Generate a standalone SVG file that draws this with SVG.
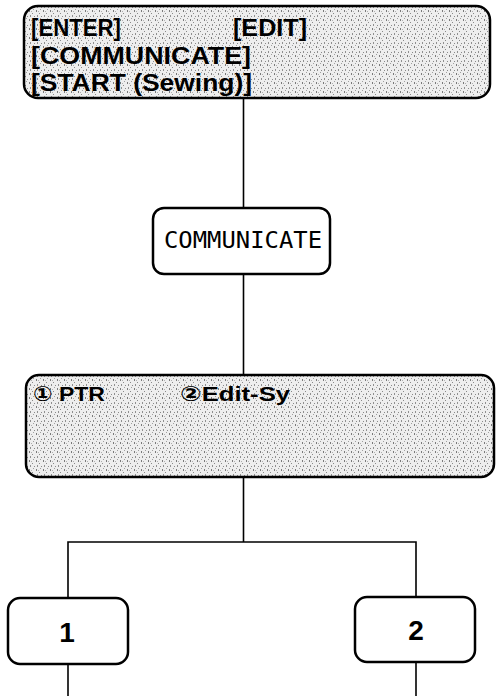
<svg xmlns="http://www.w3.org/2000/svg" width="498" height="696" viewBox="0 0 498 696">
<defs>
<pattern id="stip" width="7" height="9" patternUnits="userSpaceOnUse">
<rect width="7" height="9" fill="#eeeeee"/>
<rect x="1" y="1" width="1" height="2" fill="#7a7a7a"/>
<rect x="4" y="4" width="1" height="1" fill="#8a8a8a"/>
<rect x="2" y="6" width="1" height="2" fill="#909090"/>
<rect x="5" y="0" width="1" height="1" fill="#a0a0a0"/>
<rect x="6" y="7" width="1" height="1" fill="#8a8a8a"/>
<rect x="3" y="2" width="1" height="1" fill="#b0b0b0"/>
</pattern>
<style>
.box{stroke:#000;stroke-width:2.5}
.shaded{fill:url(#stip)}
.plain{fill:#fff}
.conn{stroke:#000;stroke-width:1.6;fill:none}
.t1{font-family:"Liberation Sans",Arial,sans-serif;font-weight:bold;font-size:24px;fill:#000}
.t2{font-family:"DejaVu Sans Mono",monospace;font-size:23px;fill:#000}
.t3{font-family:"Liberation Sans","DejaVu Sans",sans-serif;font-weight:bold;font-size:21px;fill:#000}
.t4{font-family:"Liberation Sans",Arial,sans-serif;font-weight:bold;font-size:28px;fill:#000}
</style>
</defs>
<g id="connectors">
<line class="conn" x1="243.5" y1="98" x2="243.5" y2="208"/>
<line class="conn" x1="243.5" y1="274" x2="243.5" y2="375"/>
<polyline class="conn" points="243.5,477 243.5,542"/>
<polyline class="conn" points="68,598 68,542 416,542 416,597"/>
<line class="conn" x1="68" y1="664" x2="68" y2="696"/>
<line class="conn" x1="416" y1="662" x2="416" y2="696"/>
</g>
<g id="node-menu">
<rect class="box shaded" x="24" y="6" width="466" height="92" rx="14"/>
<text class="t1" x="31" y="36" textLength="90" lengthAdjust="spacingAndGlyphs">[ENTER]</text>
<text class="t1" x="233" y="36" textLength="74" lengthAdjust="spacingAndGlyphs">[EDIT]</text>
<text class="t1" x="31" y="64" textLength="220" lengthAdjust="spacingAndGlyphs">[COMMUNICATE]</text>
<text class="t1" x="31" y="91" textLength="221" lengthAdjust="spacingAndGlyphs">[START (Sewing)]</text>
</g>
<g id="node-communicate">
<rect class="box plain" x="153" y="208" width="177" height="66" rx="11"/>
<text class="t2" x="164" y="248" textLength="158" lengthAdjust="spacingAndGlyphs">COMMUNICATE</text>
</g>
<g id="node-options">
<rect class="box shaded" x="26" y="375" width="468" height="102" rx="13"/>
<text class="t3" x="33" y="401" textLength="72" lengthAdjust="spacingAndGlyphs">① PTR</text>
<text class="t3" x="180" y="401" textLength="110" lengthAdjust="spacingAndGlyphs">②Edit-Sy</text>
</g>
<g id="node-1">
<rect class="box plain" x="8" y="598" width="120" height="66" rx="12"/>
<text class="t4" x="67" y="642" text-anchor="middle">1</text>
</g>
<g id="node-2">
<rect class="box plain" x="355" y="597" width="120" height="65" rx="12"/>
<text class="t4" x="416" y="640" text-anchor="middle">2</text>
</g>
</svg>
